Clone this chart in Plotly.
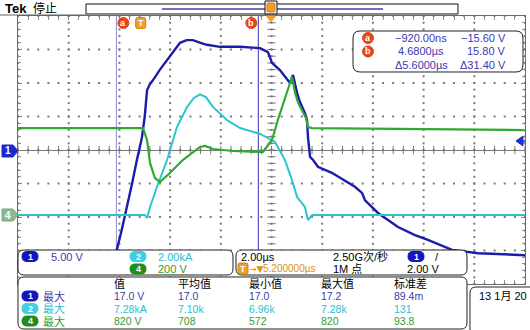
import numpy as np
import plotly.graph_objects as go

W, H = 530, 330
FONT = "Liberation Sans, Noto Sans CJK SC, sans-serif"

# ---------------- data ----------------
t_div = 2.0          # µs / div
t_center = 5.2       # µs at screen centre (horizontal position)
ch1_scale, ch1_off = 5.0, 0.0      # V/div, ground offset (div)
ch2_scale, ch2_off = 2.0, -1.94    # kA/div
ch4_scale, ch4_off = 200.0, -1.94  # V/div

ch1_t = [-4.8, -1.3, -1.15, -0.92, -0.70, -0.50, -0.30, -0.11, 0.09, 0.20, 0.29, 0.40,
         0.52, 0.80, 1.08, 1.35, 1.59, 1.85, 2.10, 2.40, 2.65, 3.17, 3.96, 4.75, 5.06,
         5.22, 5.54, 5.93, 6.05, 6.21, 6.32, 6.52, 6.60, 6.64, 6.72, 6.84, 7.03, 7.58,
         8.49, 8.77, 8.89, 9.40, 10.19, 10.86, 11.37, 12.32, 13.35, 15.2]
ch1_v = [-18.0, -18.0, -17.6, -15.2, -11.8, -8.5, -5.0, -1.5, 1.9, 5.0, 8.9, 9.8,
         10.4, 12.0, 13.4, 14.9, 16.0, 16.4, 16.4, 16.0, 15.7, 15.4, 15.4, 15.2, 14.6,
         13.0, 11.9, 10.0, 11.2, 8.5, 7.2, 5.5, 4.5, 1.9, -1.0, -1.5, -2.5, -3.4,
         -5.5, -6.4, -7.5, -9.4, -11.5, -12.7, -13.4, -14.9, -15.4, -15.7]

ch2_t = [-4.8, 0.20, 0.29, 0.41, 0.68, 1.08, 1.47, 1.87, 2.14, 2.38, 2.61, 2.89, 3.44,
         3.96, 4.75, 5.34, 5.73, 6.01, 6.21, 6.40, 6.52, 6.64, 6.80, 15.2]
ch2_i = [0.0, 0.0, -0.18, 0.48, 1.67, 3.28, 5.25, 6.45, 6.99, 7.20, 7.04, 6.45, 5.67,
         5.19, 4.84, 4.36, 3.28, 2.09, 1.07, 0.70, 0.48, -0.30, 0.0, 0.0]

ch4_t = [-4.8, 0.13, 0.29, 0.41, 0.60, 0.80, 1.19, 1.70, 2.38, 2.58, 2.89, 3.68, 4.86,
         5.22, 5.45, 5.73, 5.93, 6.01, 6.13, 6.25, 6.44, 6.56, 6.64, 6.80, 15.2]
ch4_v = [519, 519, 448, 310, 221, 197, 251, 328, 406, 412, 394, 382, 376,
         448, 567, 704, 788, 824, 728, 669, 615, 579, 525, 519, 507]

cursor_a_t, cursor_b_t = -0.92, 4.68
cursor_rows = [["−920.00ns", "−15.60 V"], ["4.6800µs", "15.80 V"], ["Δ5.6000µs", "Δ31.40 V"]]

meas_header = ["值", "平均值", "最小值", "最大值", "标准差"]
meas_rows = [
    ["1", "最大", ["17.0 V", "17.0", "17.0", "17.2", "89.4m"]],
    ["2", "最大", ["7.28kA", "7.10k", "6.96k", "7.28k", "131"]],
    ["4", "最大", ["820 V", "708", "572", "820", "93.8"]],
]

C1, C2, C4 = "#1c1ca8", "#2cc4cc", "#2eaa2e"
T1, T2, T4 = "#3a3ab0", "#28c0d0", "#2e9e2e"

# ---------------- layout helpers ----------------
GX0, GX1, GY0, GY1 = 18, 525, 16, 284


def P(x):
    return x / W


def Q(y):
    return 1 - y / H


def rrect(x0, y0, x1, y1, r):
    pts = [("M", [(x0 + r, y0)]), ("L", [(x1 - r, y0)]), ("Q", [(x1, y0), (x1, y0 + r)]),
           ("L", [(x1, y1 - r)]), ("Q", [(x1, y1), (x1 - r, y1)]), ("L", [(x0 + r, y1)]),
           ("Q", [(x0, y1), (x0, y1 - r)]), ("L", [(x0, y0 + r)]), ("Q", [(x0, y0), (x0 + r, y0)])]
    s = ""
    for cmd, ps in pts:
        s += cmd + " " + " ".join(f"{P(a):.5f},{Q(b):.5f}" for a, b in ps) + " "
    return s + "Z"


shapes, anns = [], []


def box(x0, y0, x1, y1, r=6, fill="white", line="#222222", lw=1):
    shapes.append(dict(type="path", xref="paper", yref="paper", path=rrect(x0, y0, x1, y1, r),
                       fillcolor=fill, line=dict(color=line, width=lw), layer="above"))


def text(x, y, s, color="#000", size=11, anchor="left", bold=False, family=FONT):
    if bold:
        s = "<b>" + s + "</b>"
    anns.append(dict(x=P(x), y=Q(y), xref="paper", yref="paper", text=s, showarrow=False,
                     xanchor=anchor, yanchor="middle", borderpad=0,
                     font=dict(color=color, size=size, family=family)))


def pill(xc, yc, s, fill, w=16, h=10, tc="white"):
    box(xc - w / 2, yc - h / 2, xc + w / 2, yc + h / 2, r=h / 2, fill=fill, line=fill)
    text(xc, yc, s, tc, 9, "center", True)


def circ(xc, yc, s, fill="#e4461a", r=5.5):
    shapes.append(dict(type="circle", xref="paper", yref="paper", x0=P(xc - r), x1=P(xc + r),
                       y0=Q(yc + r), y1=Q(yc - r), fillcolor=fill, line=dict(color=fill, width=1),
                       layer="above"))
    text(xc, yc, s, "white", 9, "center", True)


def tbadge(xc, yc, s="T"):
    box(xc - 5, yc - 5.5, xc + 5, yc + 5.5, r=2, fill="#f0a028", line="#d08010")
    text(xc, yc, s, "white", 9, "center", True)


# ---------------- figure ----------------
x_range = [t_center - 5 * t_div, t_center + 5 * t_div]


def yr(scale, off):
    return [(-4 - off) * scale, (4 - off) * scale]


fig = go.Figure()

# graticule dots (every 1/5 division along each division line)
gx_lines = np.arange(x_range[0], x_range[1] + 1e-9, t_div)
gy_lines = np.arange(-4, 4 + 1e-9, 1.0) * ch1_scale
sub_x = np.arange(x_range[0], x_range[1] + 1e-9, t_div / 5)
sub_y = np.arange(-4, 4 + 1e-9, 0.2) * ch1_scale
dots_x = np.concatenate([np.tile(sub_x, len(gy_lines)), np.repeat(gx_lines, len(sub_y))])
dots_y = np.concatenate([np.repeat(gy_lines, len(sub_x)), np.tile(sub_y, len(gx_lines))])
fig.add_trace(go.Scatter(x=dots_x, y=dots_y, mode="markers", yaxis="y",
                         marker=dict(symbol="square", size=2, color="#7a7a7a", line=dict(width=0)),
                         hoverinfo="skip", showlegend=False))

# centre-line tick marks
fig.add_trace(go.Scatter(x=sub_x, y=np.zeros_like(sub_x), mode="markers", yaxis="y",
                         marker=dict(symbol="line-ns", size=6, line=dict(color="#7a7a7a", width=1)),
                         hoverinfo="skip", showlegend=False))
fig.add_trace(go.Scatter(x=np.full_like(sub_y, t_center), y=sub_y, mode="markers", yaxis="y",
                         marker=dict(symbol="line-ew", size=6, line=dict(color="#7a7a7a", width=1)),
                         hoverinfo="skip", showlegend=False))

fig.add_trace(go.Scatter(x=ch2_t, y=ch2_i, yaxis="y2", mode="lines",
                         line=dict(color=C2, width=2), hoverinfo="skip", showlegend=False))
fig.add_trace(go.Scatter(x=ch4_t, y=ch4_v, yaxis="y3", mode="lines",
                         line=dict(color=C4, width=2.2), hoverinfo="skip", showlegend=False))
fig.add_trace(go.Scatter(x=ch1_t, y=ch1_v, yaxis="y", mode="lines",
                         line=dict(color=C1, width=2.4), hoverinfo="skip", showlegend=False))

# cursors
for ct, col in [(cursor_a_t, "#8c8cd0"), (cursor_b_t, "#3434b4")]:
    shapes.append(dict(type="line", xref="x", yref="paper", x0=ct, x1=ct, y0=Q(250), y1=Q(GY0),
                       line=dict(color=col, width=1), layer="below"))

xdom = [P(GX0), P(GX1)]
ydom = [Q(GY1), Q(GY0)]
fig.update_layout(
    width=W, height=H, margin=dict(l=0, r=0, t=0, b=0),
    paper_bgcolor="white", plot_bgcolor="white",
    xaxis=dict(domain=xdom, range=x_range, tick0=x_range[0], dtick=t_div, showgrid=False,
               zeroline=False, showline=True, linecolor="#6a6a6a", linewidth=1, mirror="allticks",
               ticks="inside", ticklen=4, tickcolor="#808080", showticklabels=False,
               minor=dict(dtick=t_div / 5, tick0=x_range[0], ticks="inside", ticklen=3,
                          tickcolor="#909090")),
    yaxis=dict(domain=ydom, range=yr(ch1_scale, ch1_off), tick0=0, dtick=ch1_scale,
               showgrid=False, zeroline=True, zerolinecolor="#7a7a7a", zerolinewidth=1,
               showline=True, linecolor="#6a6a6a", linewidth=1, mirror="allticks",
               ticks="inside", ticklen=4, tickcolor="#808080", showticklabels=False,
               minor=dict(dtick=ch1_scale / 5, ticks="inside", ticklen=3, tickcolor="#909090")),
    yaxis2=dict(domain=ydom, range=yr(ch2_scale, ch2_off), overlaying="y", visible=False),
    yaxis3=dict(domain=ydom, range=yr(ch4_scale, ch4_off), overlaying="y", visible=False),
)

# ---------------- top bar ----------------
text(4, 9, "Tek", "#000", 13, bold=True, family="Liberation Sans")
text(32, 9, "停止", "#000", 12)
shapes.append(dict(type="line", xref="paper", yref="paper", x0=P(0), x1=P(86), y0=Q(15), y1=Q(15),
                   line=dict(color="#606060", width=1)))
box(86, 4, 458, 14, r=0, fill="white", line="#111", lw=1)
shapes.append(dict(type="line", xref="paper", yref="paper", x0=P(162), x1=P(383), y0=Q(9), y1=Q(9),
                   line=dict(color="#3c3cb0", width=1.5), layer="above"))
box(265, 1, 277, 14, r=0, fill="white", line="#111", lw=1)
box(267, 3, 275, 12, r=1, fill="#f0a028", line="#d08010")
shapes.append(dict(type="path", xref="paper", yref="paper",
                   path=f"M {P(266.5)},{Q(16)} L {P(275.5)},{Q(16)} L {P(271)},{Q(22)} Z",
                   fillcolor="#f0a028", line=dict(color="#f0a028", width=1), layer="above"))

# cursor markers at top
xpix = lambda t: GX0 + (t - x_range[0]) / (x_range[1] - x_range[0]) * (GX1 - GX0)
circ(xpix(cursor_a_t) + 7, 23, "a")
tbadge(xpix(0) + 1, 23)
circ(xpix(cursor_b_t) - 7, 23, "b")

# channel ground markers (left) and trigger level (right)
shapes.append(dict(type="path", xref="paper", yref="paper",
                   path=f"M {P(2)},{Q(145)} L {P(13)},{Q(145)} L {P(18)},{Q(151)} L {P(13)},{Q(157)} L {P(2)},{Q(157)} Z",
                   fillcolor="#1a2ad0", line=dict(color="#1a2ad0", width=1), layer="above"))
text(8, 151, "1", "white", 10, "center", True)
shapes.append(dict(type="path", xref="paper", yref="paper",
                   path=f"M {P(2)},{Q(209)} L {P(13)},{Q(209)} L {P(18)},{Q(215)} L {P(13)},{Q(221)} L {P(2)},{Q(221)} Z",
                   fillcolor="#8fb88f", line=dict(color="#7aa87a", width=1), layer="above"))
text(8, 215, "4", "white", 10, "center", True)
shapes.append(dict(type="path", xref="paper", yref="paper",
                   path=f"M {P(516)},{Q(141)} L {P(523)},{Q(136)} L {P(523)},{Q(146)} Z",
                   fillcolor="#2030d0", line=dict(color="#2030d0", width=1), layer="above"))
shapes.append(dict(type="line", xref="paper", yref="paper", x0=P(516), x1=P(525), y0=Q(141), y1=Q(141),
                   line=dict(color="#2030d0", width=1.5), layer="above"))

# ---------------- cursor readout box ----------------
box(353, 31, 523, 72, r=7)
ry = [38, 51.5, 65]
circ(368, ry[0], "a")
circ(368, ry[1], "b")
for i, (tv, vv) in enumerate(cursor_rows):
    text(421, ry[i], tv, T1, 11, "center")
    text(507, ry[i], vv, T1, 11, "right")

# ---------------- bottom panels ----------------
box(18, 250, 233, 275, r=6)
box(236, 250, 467, 275, r=6)
box(18, 277, 467, 329, r=6)
box(470, 287, 540, 335, r=6)

pill(30, 256.5, "1", "#1414c0")
text(50, 256.5, "5.00 V", T1, 11)
pill(138, 256.5, "2", "#3cd0e0")
text(157, 256.5, "2.00kA", T2, 11)
pill(138, 269, "4", "#1e8c1e")
text(157, 269, "200 V", T4, 11)

text(240, 256.5, "2.00µs", "#000", 11)
tbadge(243, 268.5)
text(248, 268.5, "→▼", "#e09010", 9, family="DejaVu Sans")
text(262, 268.5, "5.200000µs", "#e09010", 10)
text(332, 256.5, "2.50G次/秒", "#000", 11)
text(332, 269, "1M 点", "#000", 11)
pill(416, 256.5, "1", "#1414c0")
text(434, 256.5, "/", "#000", 11)
text(440, 269, "2.00 V", "#000", 11, "right")

cols = [113, 177, 248, 320, 393]
for c, h in zip(cols, meas_header):
    text(c, 283.5, h, "#000", 11)
row_y = [296, 308.5, 321]
row_fill = ["#1414c0", "#3cd0e0", "#1e8c1e"]
row_tc = [T1, T2, T4]
for (num, lab, vals), y, f, tc in zip(meas_rows, row_y, row_fill, row_tc):
    pill(30, y, num, f)
    text(42, y, lab, tc, 11)
    for c, v in zip(cols, vals):
        text(c, y, v, tc, 10.5)

text(478, 296, "13 1月 20", "#000", 11)

fig.update_layout(shapes=shapes, annotations=anns)
fig.write_html("out.html")
